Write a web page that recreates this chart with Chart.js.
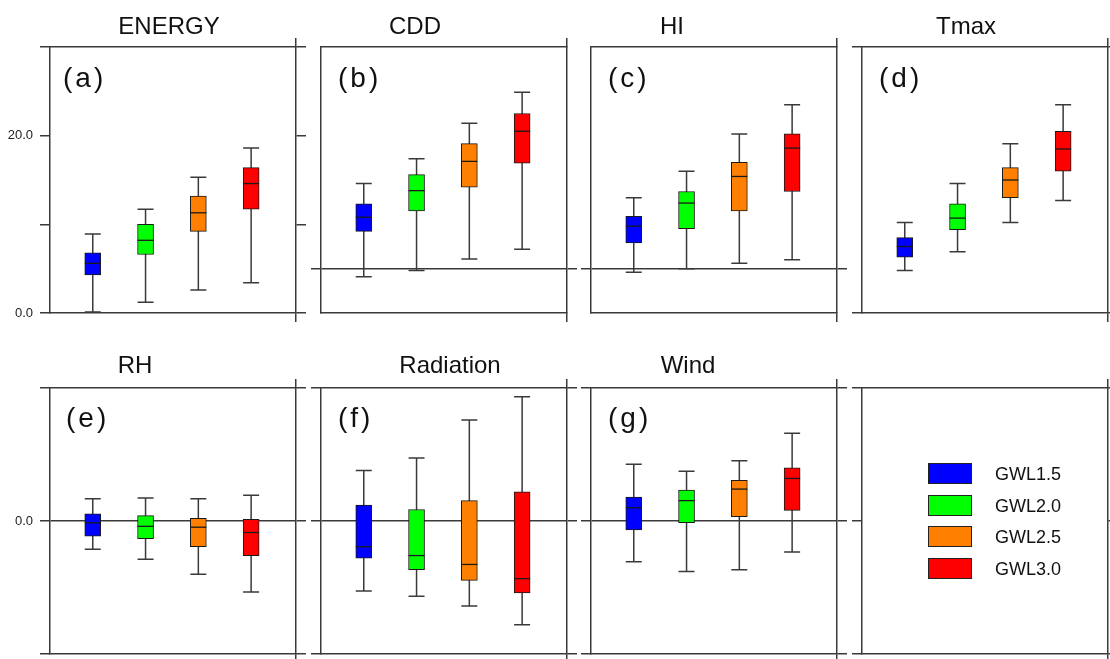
<!DOCTYPE html>
<html>
<head>
<meta charset="utf-8">
<script src="https://cdn.jsdelivr.net/npm/chart.js@4.4.1/dist/chart.umd.min.js"></script>
<style>
  body { margin: 0; background: #fff; width: 1110px; height: 659px; overflow: hidden; position: relative;
         font-family: "Liberation Sans", Arial, sans-serif; color: #111; }
  canvas { position: absolute; }
  .title { position: absolute; font-size: 24px; line-height: 24px; white-space: nowrap; transform: translateX(-50%); }
  .tag { position: absolute; font-size: 28px; line-height: 28px; letter-spacing: 3px; white-space: nowrap; }
  .lg-box { position: absolute; width: 42px; height: 19px; border: 1px solid #222; }
  .lg-text { position: absolute; font-size: 18px; line-height: 21px; white-space: nowrap; }
</style>
</head>
<body>
<script>
// warming levels and their colours
const levels = ['GWL1.5', 'GWL2.0', 'GWL2.5', 'GWL3.0'];
const levelColors = ['#0000ff', '#00ff00', '#ff8000', '#ff0000'];

// box stats per level: [min, q1, median, q3, max]
const energy    = [[0.1, 4.3, 5.6, 6.8, 8.9], [1.2, 6.6, 8.2, 10.0, 11.7], [2.6, 9.2, 11.3, 13.2, 15.3], [3.4, 11.7, 14.6, 16.4, 18.6]];
const cdd       = [[-0.9, 4.2, 5.8, 7.3, 9.6], [-0.2, 6.5, 8.8, 10.6, 12.4], [1.1, 9.2, 12.1, 14.1, 16.4], [2.2, 11.9, 15.5, 17.5, 19.9]];
const hi        = [[-0.4, 2.9, 4.8, 5.9, 8.0], [0.0, 4.5, 7.4, 8.7, 11.0], [0.6, 6.5, 10.4, 12.0, 15.2], [1.0, 8.7, 13.6, 15.2, 18.5]];
const tmax      = [[4.8, 6.3, 7.5, 8.5, 10.2], [6.9, 9.4, 10.7, 12.3, 14.6], [10.2, 13.0, 15.0, 16.4, 19.1], [12.7, 16.0, 18.5, 20.5, 23.5]];
const rh        = [[-3.2, -1.7, -0.2, 0.8, 2.5], [-4.3, -2.0, -0.6, 0.6, 2.6], [-6.0, -2.9, -0.7, 0.3, 2.5], [-8.0, -3.9, -1.3, 0.2, 2.9]];
const radiation = [[-7.9, -4.2, -2.9, 1.8, 5.7], [-8.5, -5.5, -3.9, 1.3, 7.1], [-9.6, -6.7, -4.9, 2.3, 11.4], [-11.7, -8.1, -6.5, 3.3, 14.0]];
const wind      = [[-4.6, -1.0, 1.5, 2.7, 6.4], [-5.7, -0.2, 2.3, 3.5, 5.6], [-5.5, 0.5, 3.6, 4.6, 6.8], [-3.5, 1.2, 4.8, 6.0, 9.9]];

const panelNames = ['ENERGY', 'CDD', 'HI', 'Tmax', 'RH', 'Radiation', 'Wind'];
const panelTags = ['(a)', '(b)', '(c)', '(d)', '(e)', '(f)', '(g)'];
const panelStats = [energy, cdd, hi, tmax, rh, radiation, wind, null];
const panelRanges = [[0, 30], [-5, 25], [-5, 25], [0, 30], [-15, 15], [-15, 15], [-15, 15], [-15, 15]];
const leftTicks  = [[0, 10, 20, 30], [0], [0], [0, 30], [-15, 0, 15], [-15, 0, 15], [-15, 0, 15], [-15, 0, 15]];
const rightTicks = [[0, 10, 20, 30], [0], [0], [0, 30], [-15, 0, 15], [-15, 0, 15], [-15, 0, 15], [-15, 0, 15]];
const tickLabels = [[0, 20], [], [], [], [0], [], [], []];
const zeroLine = [false, true, true, false, true, true, true, false];

const LINE = '#3a3a3a';
const plotLefts = [50, 321, 591, 862];
const plotTops = [47, 388];
const titlePos = [[169, 34], [415, 34], [672, 34], [966, 34], [135, 373], [450, 373], [688, 373]];
const tagLefts = [63, 338, 608, 879, 66, 338, 608];

// whiskers behind boxes, median bars on top
const boxWhiskers = {
  id: 'boxWhiskers',
  beforeDatasetsDraw(chart) {
    const y = chart.scales.y, ctx = chart.ctx;
    ctx.save();
    ctx.strokeStyle = LINE;
    ctx.lineWidth = 1.5;
    chart.data.datasets.forEach((ds, i) => {
      const bar = chart.getDatasetMeta(i).data[0];
      if (!bar || !ds.stats) return;
      const half = bar.width / 2;
      const top = y.getPixelForValue(ds.stats[4]);
      const bot = y.getPixelForValue(ds.stats[0]);
      ctx.beginPath();
      ctx.moveTo(bar.x, top); ctx.lineTo(bar.x, bot);
      ctx.moveTo(bar.x - half, top); ctx.lineTo(bar.x + half, top);
      ctx.moveTo(bar.x - half, bot); ctx.lineTo(bar.x + half, bot);
      ctx.stroke();
    });
    ctx.restore();
  },
  afterDatasetsDraw(chart) {
    const y = chart.scales.y, ctx = chart.ctx;
    ctx.save();
    ctx.strokeStyle = '#1a1a1a';
    ctx.lineWidth = 1.3;
    chart.data.datasets.forEach((ds, i) => {
      const bar = chart.getDatasetMeta(i).data[0];
      if (!bar || !ds.stats) return;
      const half = bar.width / 2;
      const m = y.getPixelForValue(ds.stats[2]);
      ctx.beginPath();
      ctx.moveTo(bar.x - half, m); ctx.lineTo(bar.x + half, m);
      ctx.stroke();
    });
    ctx.restore();
  }
};

function xAxis(position) {
  return {
    type: 'linear', position: position, min: 0.19, max: 4.85, offset: false,
    afterBuildTicks: a => { a.ticks = [{ value: a.max }]; },
    afterFit: a => { a.height = 17; },
    ticks: { display: false },
    grid: { offset: false, drawOnChartArea: false, tickLength: 9, color: LINE, lineWidth: 1.5 },
    border: { display: true, color: LINE, width: 1.5 }
  };
}

function makePanel(p) {
  const col = p % 4, row = Math.floor(p / 4);
  const canvas = document.createElement('canvas');
  canvas.width = 310; canvas.height = 300;
  canvas.style.left = (plotLefts[col] - 50) + 'px';
  canvas.style.top = (plotTops[row] - 17) + 'px';
  document.body.appendChild(canvas);

  const stats = panelStats[p];
  const datasets = levels.map((lv, i) => ({
    label: lv,
    data: stats ? [{ x: i + 1, y: [stats[i][1], stats[i][3]] }] : [],
    stats: stats ? stats[i] : null,
    backgroundColor: levelColors[i],
    borderColor: '#1a1a1a',
    borderWidth: 1,
    borderSkipped: false,
    barThickness: 16,
    grouped: false
  }));

  const [ymin, ymax] = panelRanges[p];
  new Chart(canvas, {
    type: 'bar',
    data: { datasets },
    options: {
      responsive: false, animation: false, devicePixelRatio: 1,
      layout: { padding: 0 },
      plugins: { legend: { display: false }, tooltip: { enabled: false } },
      scales: {
        x: xAxis('bottom'),
        xTop: xAxis('top'),
        y: {
          type: 'linear', position: 'left', min: ymin, max: ymax,
          afterBuildTicks: a => { a.ticks = leftTicks[p].map(v => ({ value: v })); },
          afterFit: a => { a.width = 50; },
          ticks: {
            padding: 7, color: '#222', font: { size: 13, family: '"Liberation Sans", Arial' },
            callback: v => tickLabels[p].includes(v) ? v.toFixed(1) : ''
          },
          grid: {
            tickLength: 10, lineWidth: 1.5, tickColor: LINE,
            color: c => (zeroLine[p] && c.tick && c.tick.value === 0) ? LINE : 'rgba(0,0,0,0)'
          },
          border: { display: true, color: LINE, width: 1.5 }
        },
        yRight: {
          type: 'linear', position: 'right', min: ymin, max: ymax,
          afterBuildTicks: a => { a.ticks = rightTicks[p].map(v => ({ value: v })); },
          afterFit: a => { a.width = 14; },
          ticks: { display: false },
          grid: { drawOnChartArea: false, tickLength: 10, lineWidth: 1.5, color: LINE },
          border: { display: true, color: LINE, width: 1.5 }
        }
      }
    },
    plugins: [boxWhiskers]
  });

  if (p < panelNames.length) {
    const t = document.createElement('div');
    t.className = 'title';
    t.textContent = panelNames[p];
    t.style.left = titlePos[p][0] + 'px';
    t.style.top = (titlePos[p][1] - 20) + 'px';
    document.body.appendChild(t);

    const g = document.createElement('div');
    g.className = 'tag';
    g.textContent = panelTags[p];
    g.style.left = tagLefts[p] + 'px';
    g.style.top = ((row === 0 ? 88 : 428) - 24) + 'px';
    document.body.appendChild(g);
  }
}

for (let p = 0; p < 8; p++) makePanel(p);

// legend in the empty eighth panel
levels.forEach((lv, i) => {
  const top = 463 + i * 31.7;
  const b = document.createElement('div');
  b.className = 'lg-box';
  b.style.left = '928px';
  b.style.top = top + 'px';
  b.style.background = levelColors[i];
  document.body.appendChild(b);
  const t = document.createElement('div');
  t.className = 'lg-text';
  t.textContent = lv;
  t.style.left = '995px';
  t.style.top = (top + 1) + 'px';
  document.body.appendChild(t);
});
</script>
</body>
</html>
